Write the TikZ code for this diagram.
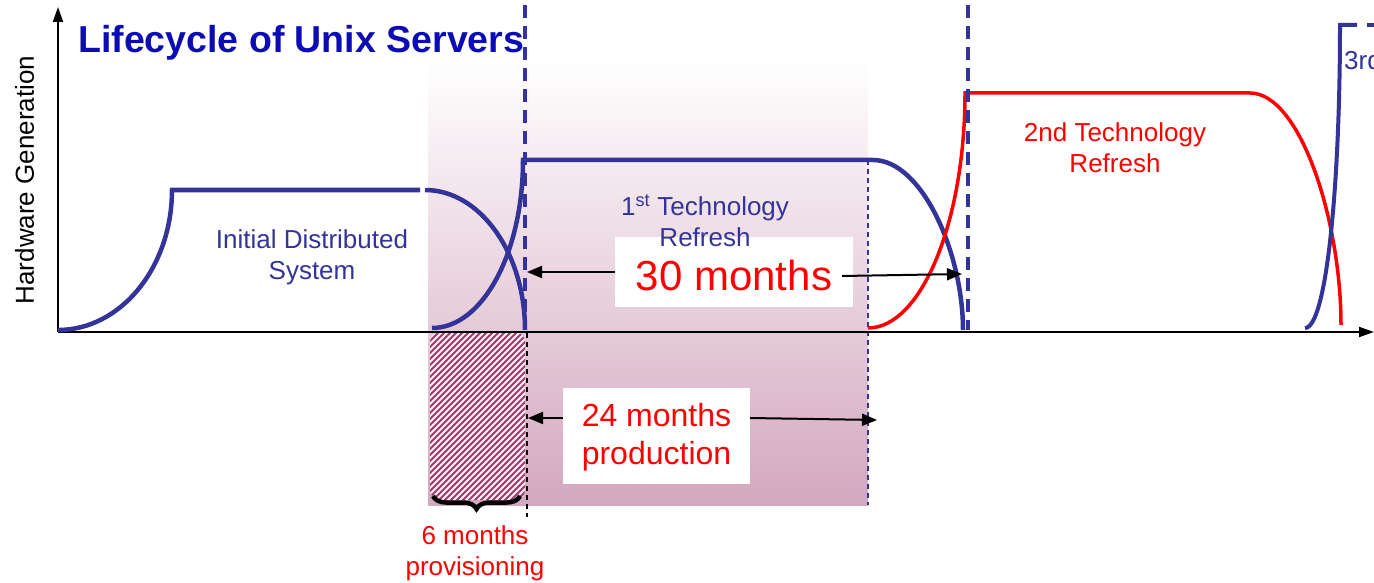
\documentclass[tikz,border=0pt]{standalone}
\usepackage{fontspec}
\setmainfont{Liberation Sans}
\usetikzlibrary{arrows.meta,decorations.pathreplacing}
\definecolor{navy}{RGB}{51,51,153}
\definecolor{ttl}{RGB}{12,12,180}
\definecolor{rd}{RGB}{255,0,0}
\definecolor{mauve}{RGB}{211,168,190}
\definecolor{hatchc}{RGB}{160,60,110}
\definecolor{hatchbg}{RGB}{250,238,244}
\tikzset{
  bluecurve/.style={draw=navy, line width=4.5pt},
  redcurve/.style={draw=rd, line width=3.5pt},
  bigdash/.style={draw=navy, line width=4pt, dash pattern=on 13pt off 8pt},
  thindash/.style={draw=navy, line width=1.5pt, dash pattern=on 5pt off 4pt},
  blackdash/.style={draw=black, line width=1.5pt, dash pattern=on 5pt off 4pt},
  axisline/.style={draw=black, line width=2pt, -{Triangle[length=15pt,width=10pt]}},
  dimarrow/.style={draw=black, line width=2pt, -{Triangle[length=15pt,width=12pt]}},
  whitebox/.style={fill=white, inner sep=0pt},
  bluelbl/.style={text=navy, align=center, font=\fontsize{26}{31}\selectfont},
  redlbl/.style={text=rd, align=center, font=\fontsize{26}{31}\selectfont},
}
\begin{document}
\begin{tikzpicture}[x=1pt,y=-1pt]
\useasboundingbox (0,0) rectangle (1374,583);
% gradient area
\shade[top color=white, bottom color=mauve] (428,60) rectangle (868,505);
% hatch area
\begin{scope}
  \clip[rounded corners=10pt] (430,332) rectangle (525,500);
  \fill[hatchbg] (430,332) rectangle (525,500);
  \foreach \i in {0,...,48} {
    \draw[hatchc, line width=2pt] ({260+\i*6},505) -- ++(180,-180);
  }
\end{scope}
% thin dashed lines
\draw[blackdash] (527,333) -- (527,517);
\draw[thindash] (868,160) -- (868,505);
% axes
\coordinate (orig) at (58,332);
\coordinate (ytop) at (58,7);
\coordinate (xend) at (1374,332);
\draw[axisline] (orig) -- (ytop);
\draw[axisline] (orig) -- (xend);
% initial system
\draw[bluecurve] (58,330) .. controls (121,330) and (172,267) .. (172,190) -- (420,190);
\draw[bluecurve] (425,190) .. controls (480,190) and (525,253) .. (525,330);
% 1st refresh
\draw[bluecurve] (432,328) .. controls (483,328) and (523,252) .. (523,160) -- (873,160);
\draw[bluecurve] (873,160) .. controls (922,160) and (963,253) .. (963,330);
% 2nd refresh
\draw[redcurve] (868,328) .. controls (921,328) and (965,222) .. (965,93) -- (1250,93);
\draw[redcurve] (1250,93) .. controls (1300,93) and (1341,220) .. (1341,325);
% 3rd refresh
\draw[draw=navy, line width=4pt] (1305,328) .. controls (1326,328) and (1340,190) .. (1340,25) -- (1357,25);
\draw[draw=navy, line width=4pt] (1367,25) -- (1380,25);
% big dashed verticals
\draw[bigdash] (525,5) -- (525,330);
\draw[bigdash] (968,5) -- (968,330);
% title and axis label
\node[anchor=base west, inner sep=0pt, text=ttl, font=\fontsize{37.5}{44}\selectfont\bfseries] (title) at (78,53) {Lifecycle of Unix Servers};
\node[rotate=90, anchor=base, inner sep=0pt, font=\fontsize{26}{31}\selectfont] (ylbl) at (34,180) {Hardware Generation};
% 30 months box
\node[whitebox, minimum width=238pt, minimum height=70pt] (m30) at (734,272) {};
% labels
\node[bluelbl] (initlbl) at (312,257) {Initial Distributed\\System};
\node[bluelbl] (ref1lbl) at (705,221) {1\textsuperscript{st} Technology\\Refresh};
\node[redlbl] (ref2lbl) at (1115,148) {2nd Technology\\Refresh};
\node[anchor=west, inner sep=0pt, text=navy, font=\fontsize{26}{31}\selectfont] (ref3lbl) at (1344,60) {3rd};
% 30 months
\node[text=rd, font=\fontsize{42}{50}\selectfont] (m30t) at (734,275) {30 months};
\coordinate (a30l) at (527,272);
\coordinate (a30rs) at (842,276);
\coordinate (a30r) at (962,274);
\draw[dimarrow] (m30.west) -- (a30l);
\draw[dimarrow] (a30rs) -- (a30r);
% 24 months
\node[whitebox, minimum width=187pt, minimum height=96pt] (m24) at (656.5,436) {};
\node[text=rd, align=center, font=\fontsize{32}{38}\selectfont] (m24t) at (656.5,437) {24 months\\production};
\coordinate (a24ls) at (563,418);
\coordinate (a24l) at (528,418);
\coordinate (a24rs) at (750,418);
\coordinate (a24r) at (877,420);
\draw[dimarrow] (a24ls) -- (a24l);
\draw[dimarrow] (a24rs) -- (a24r);
% brace
\coordinate (brR) at (520,496);
\coordinate (brL) at (433,496);
\draw[black, line width=4.5pt, decorate, decoration={brace, amplitude=13pt}] (brR) -- (brL);
\node[redlbl] (provlbl) at (475,553) {6 months\\provisioning};
\end{tikzpicture}
\end{document}
